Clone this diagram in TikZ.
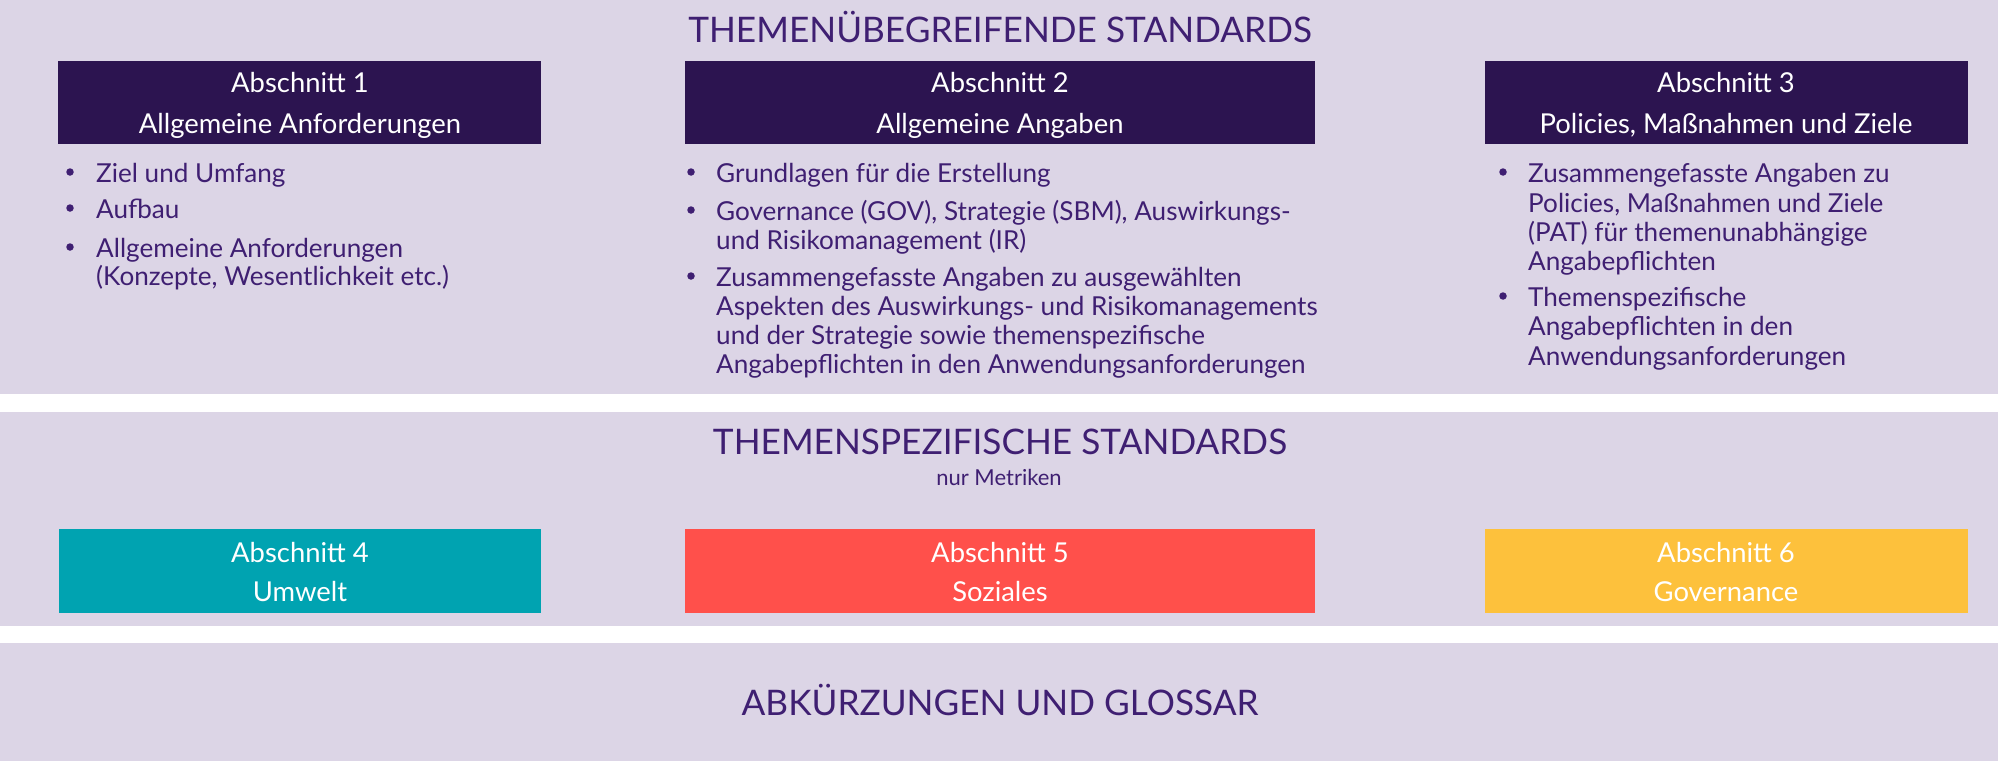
\documentclass[tikz,border=0pt]{standalone}
\usepackage{fontspec}
\setmainfont{Lato}
\definecolor{panelc}{HTML}{DCD5E6}
\definecolor{darkc}{HTML}{2C1450}
\definecolor{txtc}{HTML}{3F1F72}
\definecolor{tealc}{HTML}{00A3B1}
\definecolor{redc}{HTML}{FF504B}
\definecolor{yellowc}{HTML}{FDC13C}
\begin{document}
\begin{tikzpicture}[x=1pt,y=-1pt,
  htext/.style={text=white,font=\fontsize{27.4}{30}\selectfont,inner sep=0pt,anchor=base},
  body/.style={text=txtc,font=\fontsize{26.1}{29}\selectfont,inner sep=0pt,anchor=base west},
  bdot/.style={circle,fill=txtc,inner sep=0pt,minimum size=7.5pt},
  ttl/.style={text=txtc,font=\fontsize{35.2}{40}\selectfont,inner sep=0pt,anchor=base},
  small/.style={text=txtc,font=\fontsize{22}{25}\selectfont,inner sep=0pt,anchor=base}]
\useasboundingbox (0,0) rectangle (2000,763);
\fill[white] (0,0) rectangle (2000,763);
% panels
\fill[panelc] (0,0) rectangle (1998,394);
\fill[panelc] (0,412) rectangle (1998,626);
\fill[panelc] (0,643) rectangle (1998,761);
% header boxes
\fill[darkc] (58,61) rectangle (541,144);
\fill[darkc] (685,61) rectangle (1315,144);
\fill[darkc] (1485,61) rectangle (1968,144);
% metric boxes
\fill[tealc] (59,529) rectangle (541,613);
\fill[redc] (685,529) rectangle (1315,613);
\fill[yellowc] (1485,529) rectangle (1968,613);
% titles
\node[ttl] (t1) at (1000,42) {THEMENÜBEGREIFENDE STANDARDS};
\node[ttl] (t2) at (1000,454) {THEMENSPEZIFISCHE STANDARDS};
\node[small] (t2s) at (999,485) {nur Metriken};
\node[ttl] (t3) at (1000,715) {ABKÜRZUNGEN UND GLOSSAR};
% header texts
\node[htext] (h1a) at (300,92) {Abschnitt 1};
\node[htext] (h1b) at (300,133) {Allgemeine Anforderungen};
\node[htext] (h2a) at (1000,92) {Abschnitt 2};
\node[htext] (h2b) at (1000,133) {Allgemeine Angaben};
\node[htext] (h3a) at (1726,92) {Abschnitt 3};
\node[htext] (h3b) at (1726,133) {Policies, Maßnahmen und Ziele};
\node[htext] (h4a) at (300,562) {Abschnitt 4};
\node[htext] (h4b) at (300,601) {Umwelt};
\node[htext] (h5a) at (1000,562) {Abschnitt 5};
\node[htext] (h5b) at (1000,601) {Soziales};
\node[htext] (h6a) at (1726,562) {Abschnitt 6};
\node[htext] (h6b) at (1726,601) {Governance};
% column 1
\node[bdot] (d1a) at (70,172) {};
\node[body] (l1a) at (96,182) {Ziel und Umfang};
\node[bdot] (d1b) at (70,208) {};
\node[body] (l1b) at (96,218) {Aufbau};
\node[bdot] (d1c) at (70,247) {};
\node[body] (l1c) at (96,257) {Allgemeine Anforderungen};
\node[body] (l1d) at (96,285) {(Konzepte, Wesentlichkeit etc.)};
% column 2
\node[bdot] (d2a) at (691,172) {};
\node[body] (l2a) at (716,182) {Grundlagen für die Erstellung};
\node[bdot] (d2b) at (691,210) {};
\node[body] (l2b) at (716,220) {Governance (GOV), Strategie (SBM), Auswirkungs-};
\node[body] (l2c) at (716,249) {und Risikomanagement (IR)};
\node[bdot] (d2c) at (691,276) {};
\node[body] (l2d) at (716,286) {Zusammengefasste Angaben zu ausgewählten};
\node[body] (l2e) at (716,315) {Aspekten des Auswirkungs- und Risikomanagements};
\node[body] (l2f) at (716,344) {und der Strategie sowie themenspezifische};
\node[body] (l2g) at (716,373) {Angabepflichten in den Anwendungsanforderungen};
% column 3
\node[bdot] (d3a) at (1503,172) {};
\node[body] (l3a) at (1528,182) {Zusammengefasste Angaben zu};
\node[body] (l3b) at (1528,212) {Policies, Maßnahmen und Ziele};
\node[body] (l3c) at (1528,241) {(PAT) für themenunabhängige};
\node[body] (l3d) at (1528,270) {Angabepflichten};
\node[bdot] (d3b) at (1503,296) {};
\node[body] (l3e) at (1528,306) {Themenspezifische};
\node[body] (l3f) at (1528,335) {Angabepflichten in den};
\node[body] (l3g) at (1528,365) {Anwendungsanforderungen};
\end{tikzpicture}
\end{document}
